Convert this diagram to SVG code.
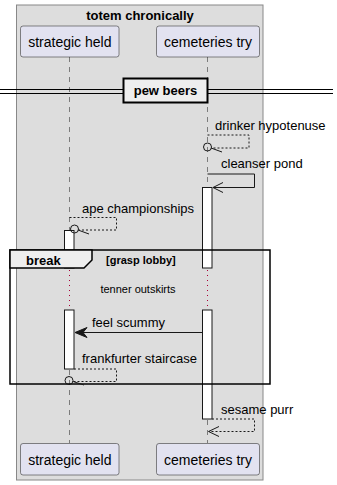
<svg xmlns="http://www.w3.org/2000/svg" width="337" height="485" viewBox="0 0 337 485">
<style>
  text { font-family: "Liberation Sans", Arial, sans-serif; fill: #000; }
  .part rect { fill: #E2E2F0; stroke: #181818; stroke-width: 0.5; }
  .part text { font-size: 14px; text-anchor: middle; }
  .life { stroke: #181818; stroke-width: 0.5; stroke-dasharray: 5 5; fill: none; }
  .act { fill: #FFFFFF; stroke: #181818; stroke-width: 1; }
  .msg { font-size: 13px; }
  .solid { stroke: #181818; stroke-width: 1; fill: none; }
  .dash { stroke: #181818; stroke-width: 1; fill: none; stroke-dasharray: 2 2; }
  .bold { font-weight: bold; font-size: 13px; }
</style>

<!-- box grouping both participants -->
<g id="box-totem">
  <rect x="16.5" y="5" width="246.5" height="475" fill="#DDDDDD" stroke="#888888" stroke-width="1"/>
  <text class="bold" x="140" y="20" text-anchor="middle">totem chronically</text>
</g>

<!-- lifelines -->
<g id="lifelines">
  <line class="life" x1="69.5" y1="57" x2="69.5" y2="268"/>
  <line class="life" x1="69.5" y1="310" x2="69.5" y2="443"/>
  <line class="life" x1="207.5" y1="57" x2="207.5" y2="268"/>
  <line class="life" x1="207.5" y1="310" x2="207.5" y2="443"/>
  <!-- delay segment -->
  <line x1="69.5" y1="270" x2="69.5" y2="310" stroke="#A80036" stroke-width="1" stroke-dasharray="1 4"/>
  <line x1="207.5" y1="270" x2="207.5" y2="310" stroke="#A80036" stroke-width="1" stroke-dasharray="1 4"/>
</g>

<!-- participants -->
<g id="strategic-held-top" class="part">
  <rect x="20.5" y="26" width="98.5" height="31" rx="2.5"/>
  <text x="69.8" y="46.5">strategic held</text>
</g>
<g id="cemeteries-try-top" class="part">
  <rect x="156.5" y="26" width="103" height="31" rx="2.5"/>
  <text x="208" y="46.5">cemeteries try</text>
</g>
<g id="strategic-held-bottom" class="part">
  <rect x="20.5" y="443.5" width="98.5" height="31.5" rx="2.5"/>
  <text x="69.8" y="464.5">strategic held</text>
</g>
<g id="cemeteries-try-bottom" class="part">
  <rect x="156.5" y="443.5" width="103" height="31.5" rx="2.5"/>
  <text x="208" y="464.5">cemeteries try</text>
</g>

<!-- divider -->
<g id="divider-pew-beers">
  <line x1="0" y1="89.5" x2="333" y2="89.5" stroke="#000" stroke-width="1"/>
  <line x1="0" y1="93.5" x2="333" y2="93.5" stroke="#000" stroke-width="1"/>
  <rect x="123.5" y="78.5" width="84" height="24" fill="#EEEEEE" stroke="#000" stroke-width="2"/>
  <text class="bold" x="165.5" y="95" text-anchor="middle">pew beers</text>
</g>

<!-- activations -->
<g id="activations">
  <rect class="act" x="202.5" y="187.5" width="9.5" height="80.5"/>
  <rect class="act" x="202.5" y="310" width="9.5" height="109"/>
  <rect class="act" x="64.5" y="230.5" width="9.5" height="37.5"/>
  <rect class="act" x="64.5" y="310" width="9.5" height="59"/>
</g>

<!-- break fragment -->
<g id="fragment-break">
  <rect x="10" y="250" width="260" height="134" fill="none" stroke="#000" stroke-width="1.5"/>
  <path d="M10,250 L92,250 L92,260 L84,268 L10,268 Z" fill="#EEEEEE" stroke="#000" stroke-width="1.5"/>
  <text class="bold" x="26" y="265">break</text>
  <text x="106" y="264" font-size="11" font-weight="bold">[grasp lobby]</text>
  <text x="138" y="293" font-size="11" text-anchor="middle">tenner outskirts</text>
</g>

<!-- messages -->
<g id="connectors">
  <!-- drinker hypotenuse -->
  <path class="dash" d="M207.5,135 H249 V148 H212"/>
  <circle cx="207.5" cy="147" r="4" fill="none" stroke="#181818" stroke-width="1"/>
  <line class="solid" x1="211" y1="148" x2="222" y2="152"/>
  <text class="msg" x="215" y="130">drinker hypotenuse</text>

  <!-- cleanser pond -->
  <path class="solid" d="M207.5,174 H254.5 V187.5 H213"/>
  <path class="solid" d="M223,182.5 L213,187.5 L223,192.5"/>
  <text class="msg" x="221" y="168">cleanser pond</text>

  <!-- ape championships -->
  <path class="dash" d="M69.5,217.5 H116.5 V230 H79"/>
  <circle cx="74.5" cy="229" r="4" fill="none" stroke="#181818" stroke-width="1"/>
  <line class="solid" x1="78" y1="230" x2="89" y2="234"/>
  <text class="msg" x="82" y="212.5">ape championships</text>

  <!-- feel scummy -->
  <line class="solid" x1="202.5" y1="332.5" x2="76" y2="332.5"/>
  <path d="M75,332.5 L87,327.5 L83,332.5 L87,337.5 Z" fill="#181818" stroke="#181818" stroke-width="1"/>
  <text class="msg" x="92" y="327">feel scummy</text>

  <!-- frankfurter staircase -->
  <path class="dash" d="M74,369 H116.5 V381.5 H74"/>
  <circle cx="69" cy="380.5" r="4" fill="none" stroke="#181818" stroke-width="1"/>
  <line class="solid" x1="73" y1="381.5" x2="84" y2="385"/>
  <text class="msg" x="82" y="362.5">frankfurter staircase</text>

  <!-- sesame purr -->
  <path class="dash" d="M212,419 H254.5 V431.5 H209"/>
  <path class="solid" d="M219,426.5 L208.5,431.5 L219,436.5"/>
  <text class="msg" x="221" y="413.5">sesame purr</text>
</g>
</svg>
